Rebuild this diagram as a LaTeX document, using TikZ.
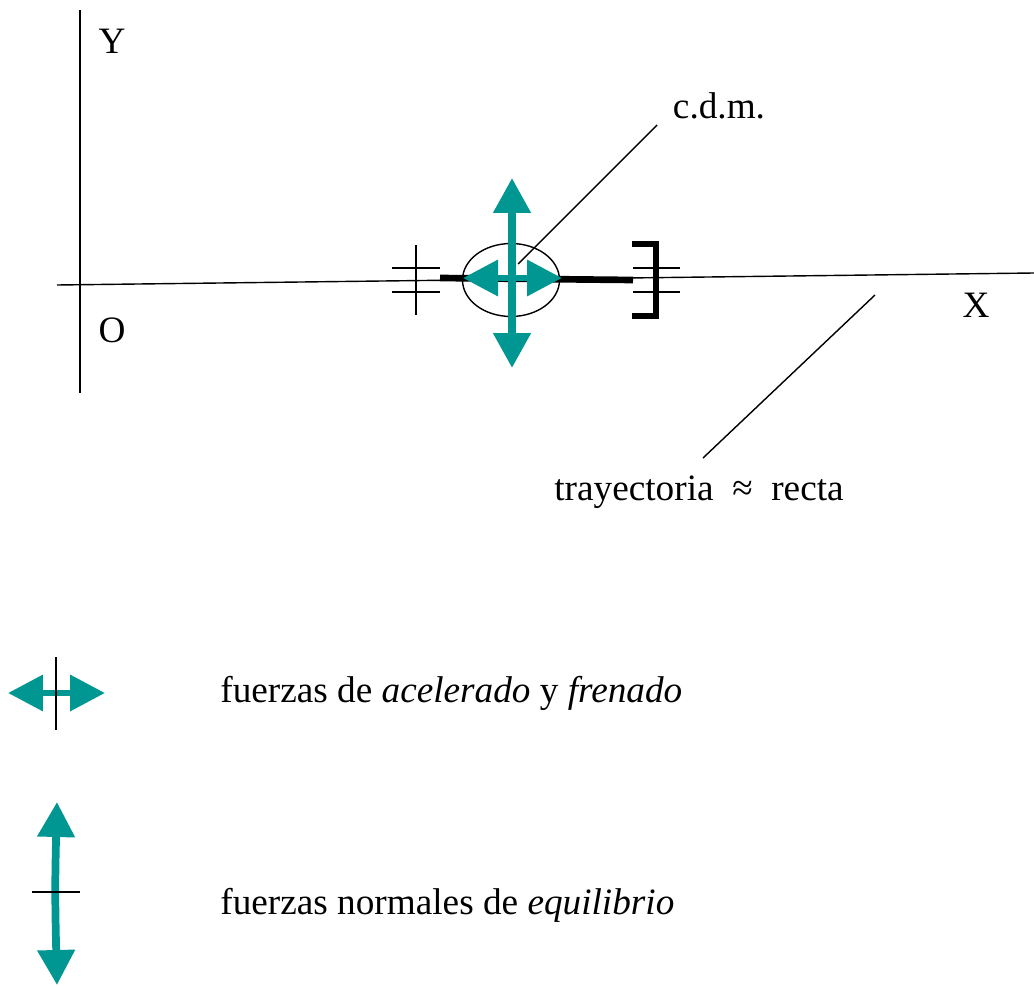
\documentclass[tikz,border=0pt]{standalone}
\usepackage{fontspec}
\setmainfont{Liberation Serif}
\usepackage{tikz}
\usetikzlibrary{shapes.geometric, positioning, arrows.meta}
\definecolor{fuerza}{RGB}{0,150,146}

\begin{document}
\begin{tikzpicture}[
    x=0.02cm, y=-0.02cm,
    eje/.style={draw, line width=0.8pt},
    marca/.style={draw, line width=0.8pt},
    barra/.style={draw, line width=3.8pt},
    fuerzaH/.style={draw=fuerza, line width=3.8pt, {Triangle[length=0.7cm, width=0.7cm]}-{Triangle[length=0.7cm, width=0.7cm]}},
    fuerzaV/.style={draw=fuerza, line width=4.4pt, {Triangle[length=0.7cm, width=0.72cm]}-{Triangle[length=0.7cm, width=0.72cm]}},
    etiqueta/.style={font=\fontsize{21.2}{26}\selectfont, inner sep=0pt}
]
    \useasboundingbox (0,0) rectangle (1034,986);

    % ================= EJES =================
    \coordinate (ytop) at (80,10);
    \coordinate (ybot) at (80,393);
    \coordinate (xizq) at (57,285);
    \coordinate (xder) at (1034,273);
    \draw[eje] (ytop) -- (ybot);
    \draw[eje] (xizq) -- (xder);

    \node[etiqueta] (Y) at (112,41) {Y};
    \node[etiqueta] (O) at (112,330) {O};
    \node[etiqueta] (X) at (976,305) {X};

    % ================= CUERPO =================
    \node[draw, ellipse, line width=0.8pt, minimum width=1.94cm, minimum height=1.46cm, inner sep=0pt] (cdm) at (511,280) {};

    % marcas izquierda
    \coordinate (mi1) at (416,245);
    \coordinate (mi2) at (416,315);
    \draw[marca] (mi1) -- (mi2);
    \draw[marca] (392,268) -- (440,268);
    \draw[marca] (392,292) -- (440,292);

    % barra gruesa
    \coordinate (bizq) at (440,278);
    \coordinate (bder) at (633,280);
    \draw[barra] (bizq) -- (bder);

    % corchete derecho
    \draw[marca] (633,268) -- (680,268);
    \draw[marca] (633,292) -- (680,292);
    \draw[barra, line cap=butt] (632,244) -- (656,244) -- (656,316) -- (632,316);

    % ================= FUERZAS =================
    \coordinate (hizq) at (463,278);
    \coordinate (hder) at (562,278);
    \draw[fuerzaH] (hizq) -- (hder);
    \coordinate (varr) at (512,178);
    \coordinate (vab) at (512,368);
    \draw[fuerzaV] (varr) -- (vab);

    % ================= ETIQUETAS =================
    \node[etiqueta] (lcdm) at (719,106) {c.d.m.};
    \coordinate (pcdm) at (657,125);
    \coordinate (ccdm) at (518,264);
    \draw[marca] (pcdm) -- (ccdm);

    \node[etiqueta] (ltray) at (699,492) {trayectoria \ ≈ \ recta};
    \coordinate (ptray) at (703,458);
    \coordinate (qtray) at (875,295);
    \draw[marca] (ptray) -- (qtray);

    % ================= LEYENDA =================
    \coordinate (la) at (8,693);
    \coordinate (lb) at (105,693);
    \draw[fuerzaH] (la) -- (lb);
    \coordinate (lc) at (56,657);
    \coordinate (ld) at (56,730);
    \draw[marca] (lc) -- (ld);
    \node[etiqueta, anchor=west] (leyA) at (220,693) {fuerzas de \textit{acelerado} y \textit{frenado}};

    \coordinate (le) at (57,802);
    \coordinate (lf) at (57,985);
    \draw[fuerzaV] (le) .. controls (55,880) and (55,900) .. (lf);
    \coordinate (lg) at (32,892);
    \coordinate (lh) at (80,892);
    \draw[marca] (lg) -- (lh);
    \node[etiqueta, anchor=west] (leyB) at (220,905) {fuerzas normales de \textit{equilibrio}};

\end{tikzpicture}
\end{document}
